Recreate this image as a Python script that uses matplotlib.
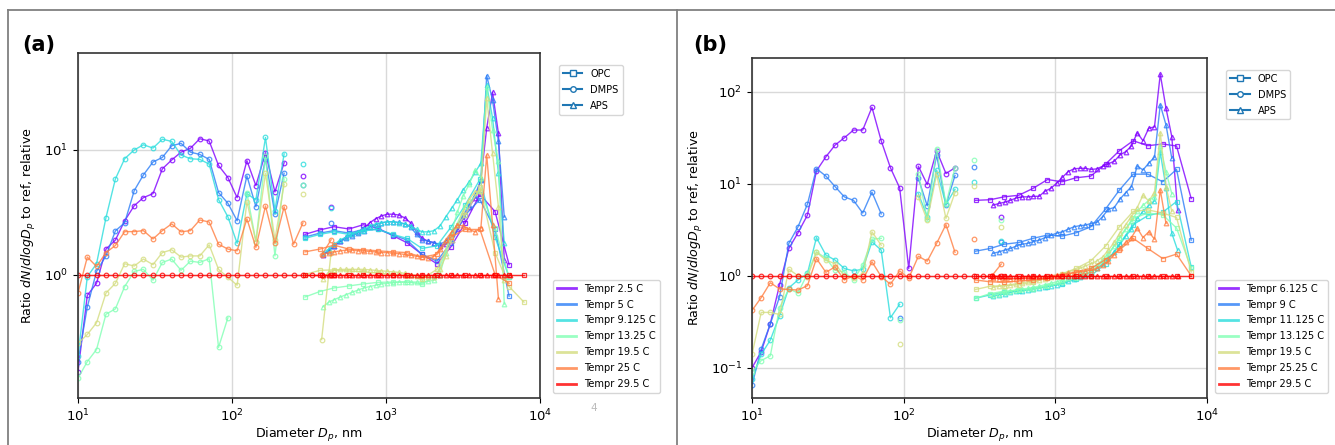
import numpy as np
import matplotlib
matplotlib.use('Agg')
import matplotlib.pyplot as plt
from matplotlib.lines import Line2D
from matplotlib.ticker import NullLocator

nan = np.nan

# ---- size grids (nm) ----
d_dmps = [10.0, 11.5, 13.2, 15.2, 17.5, 20.1, 23.2, 26.6, 30.7, 35.3, 40.6, 46.7, 53.7, 61.8,
          71.1, 81.8, 94.1, 108, 125, 143, 165, 190, 218, 251, 289, 332, 382, 440]
d_opc = [298, 372, 459, 575, 713, 888, 1109, 1368, 1713, 2143, 2642, 3260, 4074, 5105, 6300, 7870]
d_aps = [389, 425, 463, 506, 552, 603, 658, 718, 783, 855, 933, 1019, 1112, 1213, 1324, 1445, 1578,
         1722, 1879, 2051, 2239, 2443, 2667, 2911, 3177, 3467, 3784, 4130, 4508, 4920, 5370, 5861, 6398]

temps_a = ['Tempr 2.5 C', 'Tempr 5 C', 'Tempr 9.125 C', 'Tempr 13.25 C', 'Tempr 19.5 C', 'Tempr 25 C', 'Tempr 29.5 C']
temps_b = ['Tempr 6.125 C', 'Tempr 9 C', 'Tempr 11.125 C', 'Tempr 13.125 C', 'Tempr 19.5 C', 'Tempr 25.25 C', 'Tempr 29.5 C']

# reference run: ratio to itself
ref_dmps = [1.0] * len(d_dmps)
ref_opc = [1.0] * len(d_opc)
ref_aps = [1.0] * len(d_aps)

# ---- panel (a) ----
a_dmps_1 = [0.166, 0.68, 0.85, 1.6, 1.89, 2.7, 3.57, 4.14, 4.46, 7.05, 8.3, 9.6, 10.3, 12.3, 11.8, 7.5, 6.0, 4.14, 8.2, 5.17, 9.5, 4.6, 7.9, nan, 6.2, nan, nan, 3.5]
a_dmps_2 = [0.2, 0.55, 1.06, 1.41, 2.24, 2.6, 4.72, 6.3, 8.0, 8.7, 10.8, 11.3, 9.6, 9.2, 8.4, 4.55, 3.73, 2.7, 6.2, 3.5, 8.5, 3.05, 6.5, nan, 5.25, nan, nan, 2.6]
a_dmps_3 = [0.22, 0.96, 1.22, 2.86, 5.85, 8.5, 10.0, 11.0, 10.35, 12.2, 11.7, 9.1, 8.5, 8.4, 7.7, 4.0, 2.9, 1.78, 4.46, 3.97, 12.6, 3.26, 9.3, nan, 7.7, nan, nan, 3.4]
a_dmps_4 = [0.147, 0.2, 0.25, 0.48, 0.53, 0.8, 1.06, 1.1, 0.9, 1.25, 1.33, 1.08, 1.28, 1.25, 1.34, 0.26, 0.45, nan, 4.5, 1.84, 8.9, 1.41, 5.85, nan, 5.2, nan, nan, nan]
a_dmps_5 = [0.28, 0.33, 0.41, 0.71, 0.85, 1.22, 1.17, 1.33, 1.2, 1.5, 1.58, 1.38, 1.41, 1.41, 1.73, 1.1, 0.95, 0.82, 3.85, 1.84, 6.5, 1.9, 5.3, nan, 4.4, nan, 0.3, 1.5]
a_dmps_6 = [0.71, 1.38, 1.16, 1.5, 1.71, 2.21, 2.21, 2.25, 1.93, 2.25, 2.55, 2.2, 2.25, 2.74, 2.64, 1.75, 1.6, 1.55, 2.8, 1.65, 3.55, 1.78, 3.5, 1.75, 2.6, nan, 1.43, 1.9]

a_opc_1 = [2.1, 2.28, 2.42, 2.32, 2.51, 2.35, 2.05, 1.8, 1.45, 1.22, 1.67, 2.58, 4.4, 3.2, 1.2, nan]
a_opc_2 = [2.0, 2.15, 2.25, 2.15, 2.3, 2.3, 2.08, 1.89, 1.45, 1.28, 1.8, 3.0, 4.0, 2.3, 0.67, nan]
a_opc_3 = [1.95, 2.1, 2.2, 2.1, 2.25, 2.3, 2.1, 1.95, 1.62, 1.7, 2.4, 3.6, 5.8, 2.0, 0.95, nan]
a_opc_4 = [0.66, 0.73, 0.78, 0.81, 0.84, 0.865, 0.87, 0.87, 0.84, 1.0, 2.0, 3.5, 4.7, 2.36, 0.95, nan]
a_opc_5 = [1.0, 1.08, 1.09, 1.07, 1.05, 1.03, 1.0, 0.97, 0.92, 1.1, 2.0, 3.0, 5.0, 1.5, 0.8, 0.6]
a_opc_6 = [1.52, 1.6, 1.72, 1.6, 1.58, 1.55, 1.52, 1.5, 1.38, 1.45, 2.0, 2.3, 2.3, 1.0, 0.85, nan]

a_aps_1 = [1.43, 1.55, 1.7, 1.85, 2.0, 2.1, 2.2, 2.35, 2.6, 2.8, 2.95, 3.05, 3.05, 3.0, 2.85, 2.6, 2.2,
           1.95, 1.85, 1.8, 1.7, 1.75, 1.9, 2.3, 2.8, 3.5, 4.1, 5.8, 15, 29, 13.6, 1.3, nan]
a_aps_2 = [1.45, 1.55, 1.7, 1.85, 1.95, 2.05, 2.15, 2.25, 2.4, 2.5, 2.6, 2.65, 2.65, 2.62, 2.55, 2.4, 2.1,
           1.9, 1.85, 1.8, 1.75, 1.85, 2.1, 2.5, 3.0, 3.6, 4.35, 5.7, 39.5, 25, 11.7, 2.9, nan]
a_aps_3 = [1.5, 1.6, 1.75, 1.9, 2.0, 2.1, 2.2, 2.3, 2.45, 2.55, 2.6, 2.65, 2.65, 2.6, 2.55, 2.45, 2.3,
           2.2, 2.2, 2.25, 2.45, 2.9, 3.4, 4.0, 4.8, 5.5, 6.6, 7.8, 33, 18, 6.5, 1.8, nan]
a_aps_4 = [0.55, 0.6, 0.63, 0.66, 0.69, 0.72, 0.75, 0.78, 0.8, 0.82, 0.84, 0.85, 0.86, 0.87, 0.87, 0.87, 0.87,
           0.87, 0.88, 0.9, 1.0, 1.5, 2.2, 3.2, 4.3, 5.3, 6.9, 6.0, 32, 14.5, 8.1, 0.58, nan]
a_aps_5 = [0.92, 1.05, 1.08, 1.1, 1.1, 1.1, 1.1, 1.1, 1.09, 1.08, 1.07, 1.06, 1.05, 1.04, 1.02, 1.0, 0.98,
           0.96, 0.95, 0.95, 1.1, 1.4, 1.9, 2.5, 3.2, 4.0, 4.6, 4.7, 26, 9.4, 3.5, 0.9, nan]
a_aps_6 = [1.45, 1.5, 1.52, 1.55, 1.57, 1.57, 1.55, 1.55, 1.53, 1.52, 1.5, 1.5, 1.48, 1.47, 1.45, 1.43, 1.4,
           1.38, 1.35, 1.4, 1.6, 1.9, 2.2, 2.5, 2.45, 2.3, 2.2, 2.35, 9.1, 2.5, 0.64, nan, nan]

# ---- panel (b) ----
b_dmps_1 = [0.1, 0.15, 0.3, 0.8, 1.98, 2.93, 4.56, 13.8, 19.6, 26.3, 31.5, 38.3, 38.3, 67.6, 29.3, 14.9, 9.0, 1.2, 15.5, 9.8, 22.8, 12.9, 14.9, nan, nan, nan, nan, 4.4]
b_dmps_2 = [0.065, 0.16, 0.3, 0.59, 2.25, 3.4, 6.0, 14.6, 12.1, 9.3, 7.2, 6.6, 4.8, 8.1, 4.7, nan, 0.35, nan, 11.4, 5.75, 20.5, 5.85, 12.3, nan, 15.3, nan, nan, 2.3]
b_dmps_3 = [0.075, 0.14, 0.2, 0.37, 0.74, 0.9, 1.06, 2.6, 1.68, 1.48, 1.2, 1.13, 1.18, 2.34, 1.9, 0.35, 0.49, nan, 7.8, 4.4, 14.1, 5.95, 8.7, nan, 10.4, nan, nan, 2.4]
b_dmps_4 = [0.09, 0.12, 0.135, 0.45, 0.72, 0.65, 1.05, 1.82, 1.55, 1.15, 1.1, 0.9, 1.3, 2.5, 2.55, nan, 0.33, nan, 12.9, 4.1, 24, 6.0, 15, nan, 18, nan, nan, 4.0]
b_dmps_5 = [0.14, 0.4, 0.4, 0.38, 1.18, 1.0, 0.97, 1.8, 1.48, 1.35, 1.0, 0.95, 1.05, 3.0, 2.15, nan, 0.18, nan, 7.2, 4.0, 12.7, 4.2, 8.0, nan, 9.5, nan, nan, 3.4]
b_dmps_6 = [0.42, 0.58, 0.84, 0.72, 0.71, 0.7, 0.78, 1.54, 1.09, 1.25, 0.9, 1.0, 0.9, 1.42, 0.98, 0.81, 1.13, 0.94, 1.63, 1.44, 2.25, 3.6, 1.8, nan, 2.54, nan, 1.0, 1.34]

b_opc_1 = [6.6, 6.7, 7.2, 7.5, 8.9, 11.1, 10.5, 11.6, 12.1, 16.3, 22.8, 29.3, 25.9, 27, 25.7, 6.9]
b_opc_2 = [1.85, 1.98, 2.2, 2.3, 2.55, 2.77, 2.7, 2.93, 3.4, 5.3, 8.5, 12.7, 12.7, 10.5, 14.3, 2.44]
b_opc_3 = [0.57, 0.62, 0.66, 0.69, 0.72, 0.76, 0.82, 0.92, 1.0, 1.35, 2.2, 3.6, 4.5, 4.9, 6.4, 1.25]
b_opc_4 = [0.57, 0.64, 0.68, 0.7, 0.72, 0.78, 0.85, 0.95, 1.1, 1.5, 2.6, 4.2, 4.8, 4.6, 3.3, 1.2]
b_opc_5 = [0.71, 0.77, 0.78, 0.8, 0.85, 0.95, 1.05, 1.2, 1.45, 2.1, 3.4, 5.0, 5.2, 4.8, 4.3, 1.1]
b_opc_6 = [0.9, 0.86, 0.85, 0.88, 0.9, 0.95, 1.0, 1.1, 1.2, 1.5, 1.9, 2.55, 1.98, 1.54, 1.72, 1.0]

b_aps_1 = [5.85, 6.1, 6.3, 6.6, 7.0, 7.2, 7.2, 7.3, 7.3, 8.3, 8.9, 10.1, 11.7, 13.5, 14.5, 14.7, 14.7,
           14.3, 14.5, 15.5, 16.5, 17.5, 20.5, 22.3, 25.7, 35.8, 29.3, 40, 41.5, 155, 66, 32.5, 5.2]
b_aps_2 = [1.75, 1.82, 1.9, 1.98, 2.1, 2.2, 2.25, 2.35, 2.44, 2.6, 2.75, 2.9, 3.0, 3.2, 3.4, 3.5, 3.55,
           3.7, 3.8, 4.4, 5.3, 5.5, 6.8, 8.0, 9.3, 15.6, 14.1, 16.7, 19.4, 72, 43.5, 18.9, nan]
b_aps_3 = [0.6, 0.62, 0.64, 0.66, 0.68, 0.69, 0.7, 0.72, 0.74, 0.76, 0.78, 0.8, 0.84, 0.88, 0.93, 0.98, 1.03,
           1.1, 1.2, 1.35, 1.55, 1.8, 2.2, 2.7, 3.2, 4.2, 5.0, 5.8, 6.5, 22, 9.0, 2.9, 1.9]
b_aps_4 = [0.62, 0.64, 0.66, 0.68, 0.7, 0.72, 0.73, 0.75, 0.77, 0.8, 0.83, 0.86, 0.9, 0.95, 1.0, 1.05, 1.1,
           1.2, 1.3, 1.5, 1.75, 2.1, 2.6, 3.2, 3.9, 5.0, 5.8, 6.6, 7.2, 26, 13.5, 7.8, nan]
b_aps_5 = [0.75, 0.77, 0.78, 0.8, 0.82, 0.84, 0.86, 0.88, 0.9, 0.93, 0.96, 1.0, 1.05, 1.1, 1.15, 1.2, 1.28,
           1.35, 1.45, 1.6, 1.9, 2.3, 2.9, 3.6, 4.4, 5.5, 7.5, 6.5, 8.0, 36, 9.3, 5.0, nan]
b_aps_6 = [0.95, 0.93, 0.92, 0.92, 0.93, 0.94, 0.95, 0.96, 0.97, 0.98, 1.0, 1.02, 1.04, 1.06, 1.08, 1.1, 1.12,
           1.15, 1.2, 1.3, 1.45, 1.7, 2.0, 2.3, 2.6, 3.3, 2.6, 3.0, 2.5, 8.6, 3.7, nan, nan]

panel_a = [(a_opc_1, a_dmps_1, a_aps_1), (a_opc_2, a_dmps_2, a_aps_2), (a_opc_3, a_dmps_3, a_aps_3),
           (a_opc_4, a_dmps_4, a_aps_4), (a_opc_5, a_dmps_5, a_aps_5), (a_opc_6, a_dmps_6, a_aps_6),
           (ref_opc, ref_dmps, ref_aps)]
panel_b = [(b_opc_1, b_dmps_1, b_aps_1), (b_opc_2, b_dmps_2, b_aps_2), (b_opc_3, b_dmps_3, b_aps_3),
           (b_opc_4, b_dmps_4, b_aps_4), (b_opc_5, b_dmps_5, b_aps_5), (b_opc_6, b_dmps_6, b_aps_6),
           (ref_opc, ref_dmps, ref_aps)]

plt.rcParams.update({
    'font.family': 'DejaVu Sans',
    'xtick.labelsize': 9.5, 'ytick.labelsize': 9.5,
    'axes.labelsize': 9.1,
})

colors = plt.cm.rainbow(np.linspace(0, 1, 7))
ALPHA = 0.8
MS = 3.3
LEG_FS = 7.1


def draw_panel(ax, series, labels, ylim):
    for (yo, yd, ya), c in zip(series, colors):
        kw = dict(color=c, lw=1.0, alpha=ALPHA, ms=MS, mew=0.9, mfc='none')
        ax.plot(d_opc, yo, marker='s', **kw)
        ax.plot(d_dmps, yd, marker='o', **kw)
        ax.plot(d_aps, ya, marker='^', **kw)
    ax.set_xscale('log')
    ax.set_yscale('log')
    ax.set_xlim(10, 1e4)
    ax.set_ylim(*ylim)
    ax.xaxis.set_minor_locator(NullLocator())
    ax.yaxis.set_minor_locator(NullLocator())
    ax.grid(True, which='major', color='#d9d9d9', lw=1.0)
    ax.set_axisbelow(True)
    for s in ax.spines.values():
        s.set_color('#333333')
        s.set_linewidth(1.2)
    ax.set_xlabel('Diameter $D_p$, nm', labelpad=1)
    ax.set_ylabel('Ratio $dN/dlogD_p$ to ref, relative')

    inst = [Line2D([0], [0], color='#1f77b4', lw=1.5, marker='s', ms=4, mfc='white', label='OPC'),
            Line2D([0], [0], color='#1f77b4', lw=1.5, marker='o', ms=4, mfc='white', label='DMPS'),
            Line2D([0], [0], color='#1f77b4', lw=1.5, marker='^', ms=4, mfc='white', label='APS')]
    temp = [Line2D([0], [0], color=c, lw=2, alpha=ALPHA, label=l) for c, l in zip(colors, labels)]
    return inst, temp


fig = plt.figure(figsize=(13.35, 4.45), dpi=100)
fig.patch.set_facecolor('white')

ax_a = fig.add_axes([0.0584, 0.1056, 0.3461, 0.7753])
inst, temp = draw_panel(ax_a, panel_a, temps_a, (0.102, 60))
leg1 = ax_a.legend(handles=inst, loc='upper left', bbox_to_anchor=(1.03, 0.98),
                   fontsize=LEG_FS, labelspacing=0.6)
ax_a.add_artist(leg1)
ax_a.legend(handles=temp, loc='lower left', bbox_to_anchor=(1.017, 0.0),
            fontsize=LEG_FS, labelspacing=0.6)

ax_b = fig.add_axes([0.5633, 0.1056, 0.3408, 0.764])
inst, temp = draw_panel(ax_b, panel_b, temps_b, (0.047, 232))
leg2 = ax_b.legend(handles=inst, loc='upper left', bbox_to_anchor=(1.031, 0.98),
                   fontsize=LEG_FS, labelspacing=0.6)
ax_b.add_artist(leg2)
ax_b.legend(handles=temp, loc='lower left', bbox_to_anchor=(1.006, 0.0),
            fontsize=LEG_FS, labelspacing=0.6)

fig.text(22 / 1335, 1 - 45 / 445, '(a)', fontsize=15, fontweight='bold', va='center', ha='left')
fig.text(693 / 1335, 1 - 45 / 445, '(b)', fontsize=15, fontweight='bold', va='center', ha='left')
fig.text(594 / 1335, 1 - 408 / 445, '4', fontsize=7.5, color='#bbbbbb', va='center', ha='center')

# panel frames
frame_kw = dict(transform=fig.transFigure, color='#808080', lw=1.3)
fig.add_artist(Line2D([8 / 1335, 1], [1 - 10 / 445, 1 - 10 / 445], **frame_kw))
fig.add_artist(Line2D([8 / 1335, 8 / 1335], [0, 1 - 10 / 445], **frame_kw))
fig.add_artist(Line2D([677 / 1335, 677 / 1335], [0, 1 - 10 / 445], **frame_kw))

fig.savefig('out.png', dpi=100, facecolor='white')
